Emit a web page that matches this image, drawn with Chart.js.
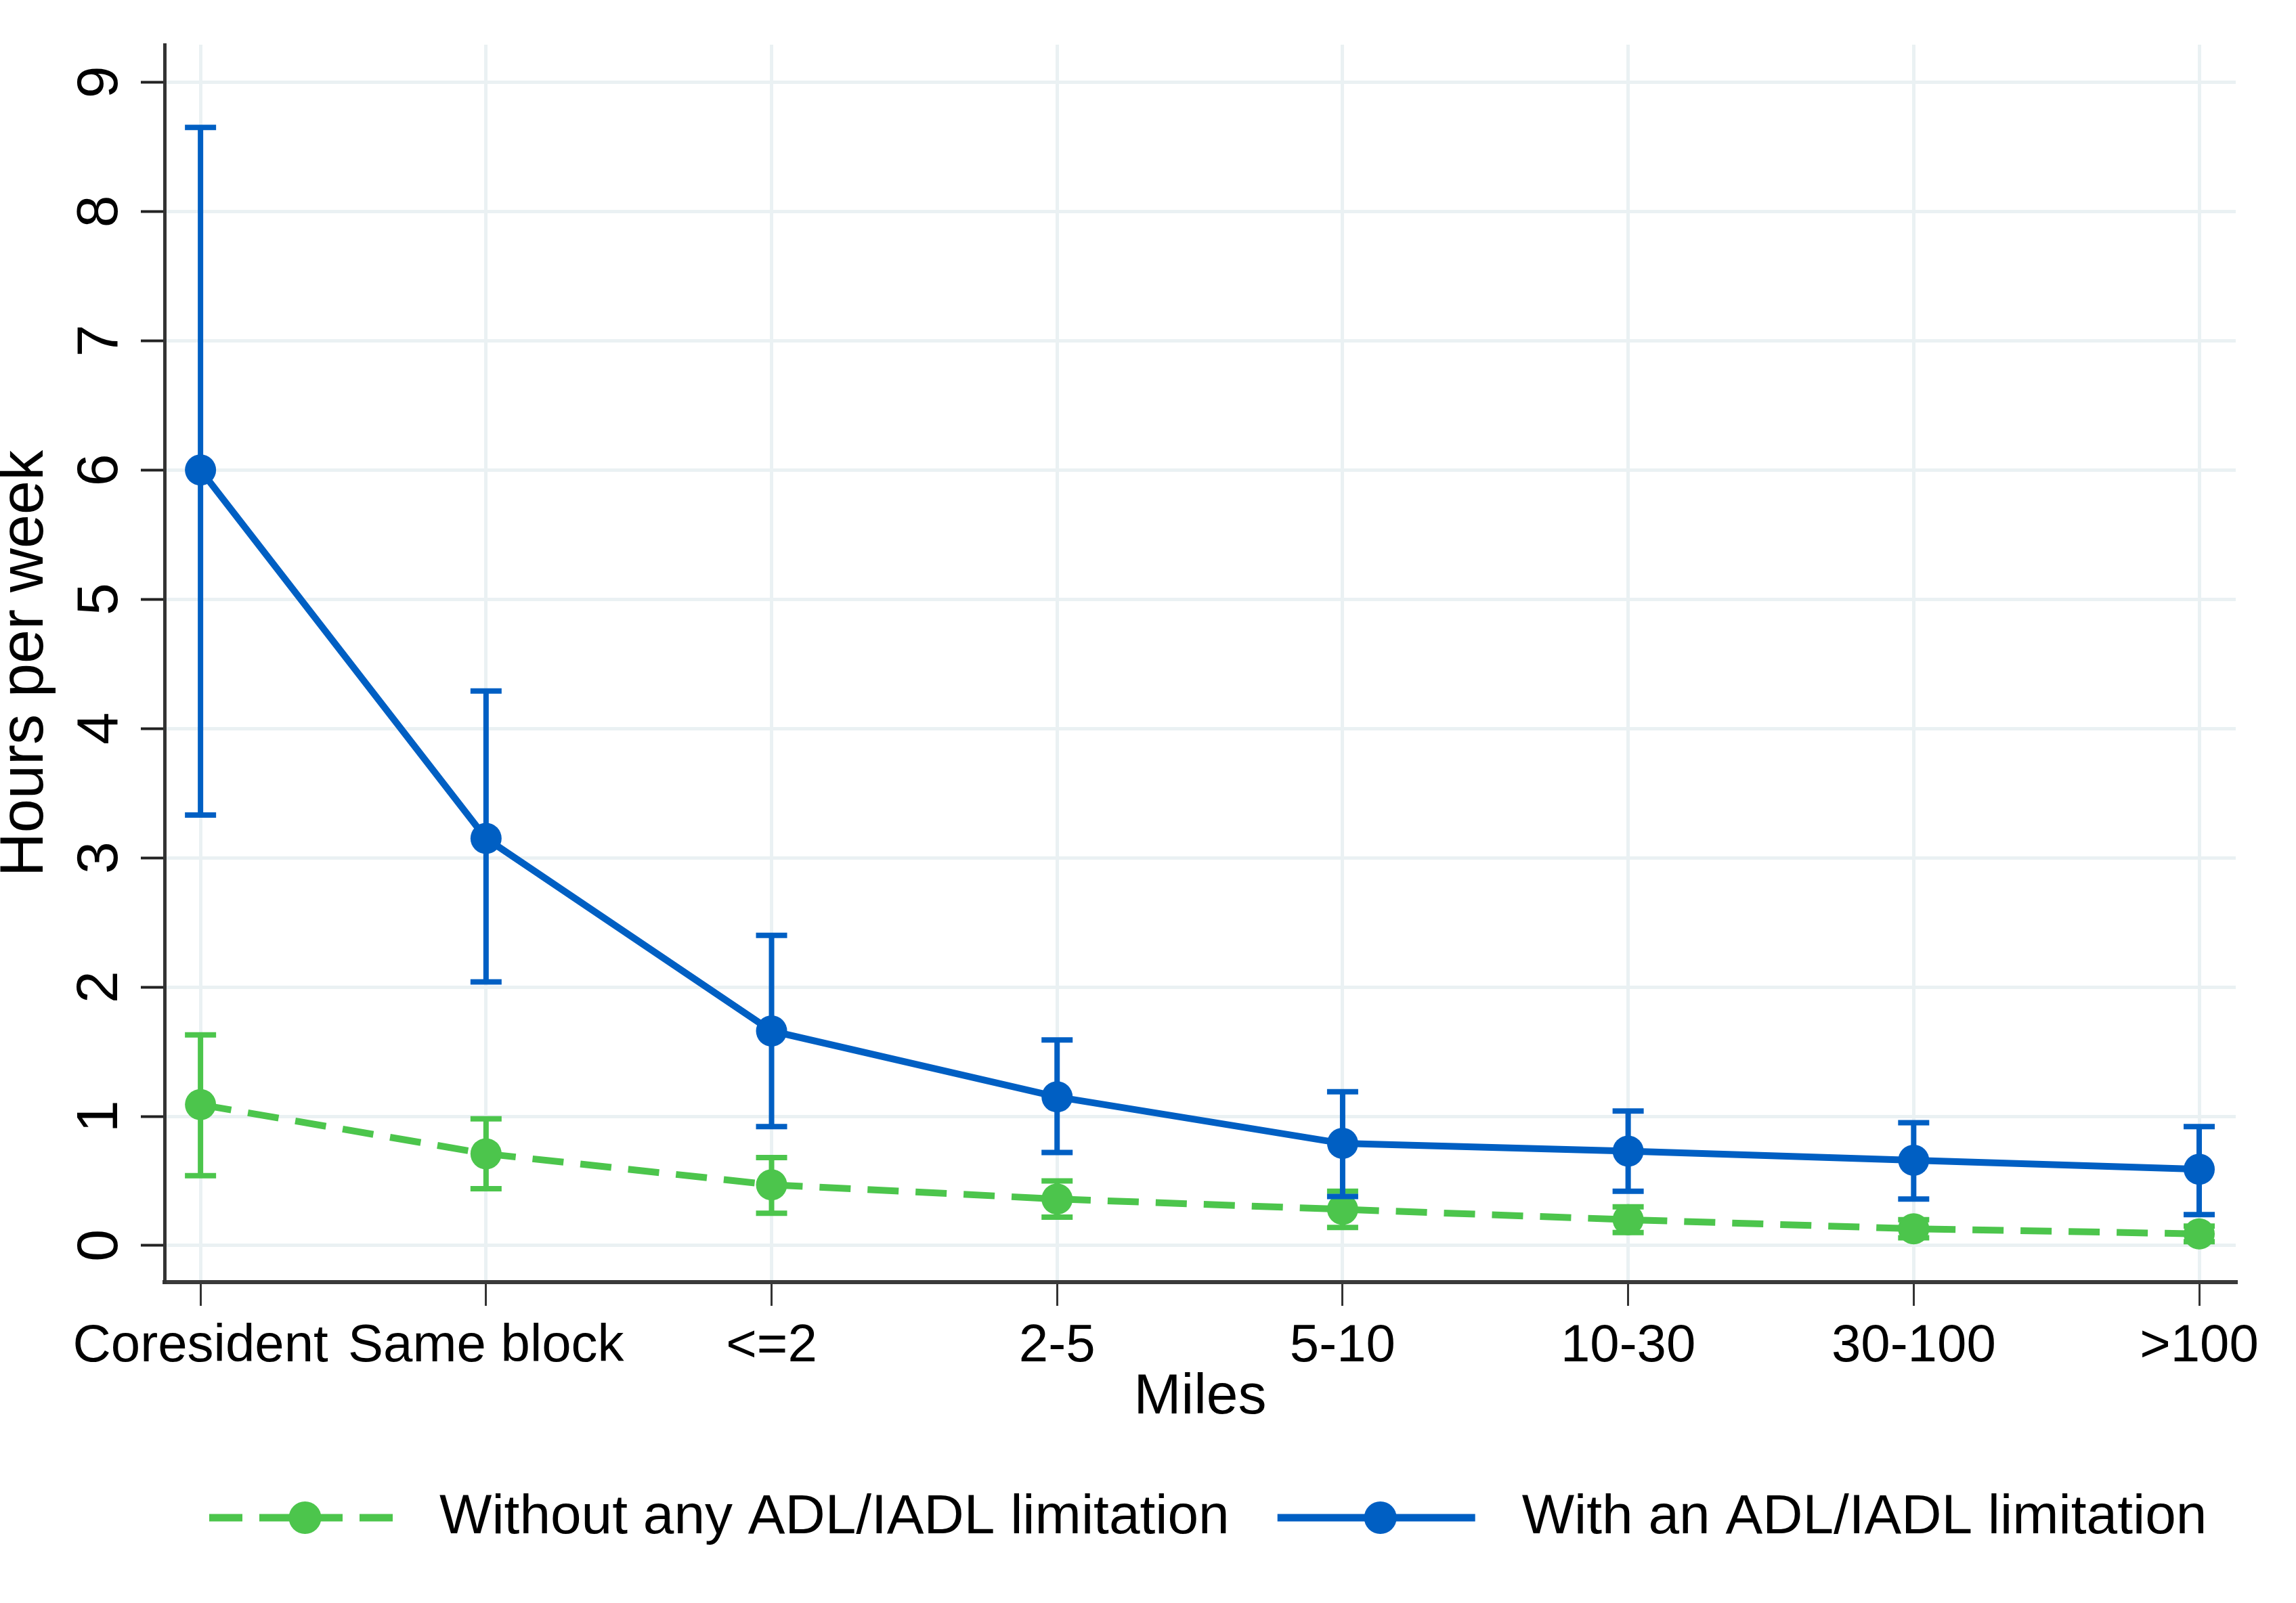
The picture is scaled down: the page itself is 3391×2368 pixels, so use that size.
<!DOCTYPE html>
<html>
<head>
<meta charset="utf-8">
<title>Hours per week by distance</title>
<script src="https://cdn.jsdelivr.net/npm/chart.js@4.4.1/dist/chart.umd.min.js"></script>
<style>
  html, body { margin: 0; padding: 0; background: #fff; }
  #wrap { width: 3391px; height: 2368px; }
</style>
</head>
<body>
<div id="wrap"><canvas id="chart"></canvas></div>
<script>
// categories on the x axis (miles)
const categories = ['Coresident', 'Same block', '<=2', '2-5', '5-10', '10-30', '30-100', '>100'];
const yTicks = [0, 1, 2, 3, 4, 5, 6, 7, 8, 9];
const seriesNames = ['Without any ADL/IADL limitation', 'With an ADL/IADL limitation'];

// without limitation (green, dashed)
const withoutVals = [1.09, 0.71, 0.47, 0.36, 0.28, 0.20, 0.13, 0.09];
const withoutLo   = [0.54, 0.44, 0.25, 0.22, 0.14, 0.10, 0.06, 0.03];
const withoutHi   = [1.63, 0.98, 0.68, 0.50, 0.42, 0.30, 0.20, 0.15];

// with limitation (blue, solid)
const withVals = [6.00, 3.15, 1.66, 1.15, 0.79, 0.73, 0.66, 0.59];
const withLo   = [3.33, 2.04, 0.92, 0.72, 0.38, 0.42, 0.36, 0.24];
const withHi   = [8.65, 4.29, 2.40, 1.59, 1.19, 1.04, 0.95, 0.92];

const GREEN = '#4cc54c';
const BLUE = '#005fc3';
const FONT = '"Liberation Sans", Arial, sans-serif';
const GRID = '#eaf1f3';

Chart.defaults.font.family = FONT;
Chart.defaults.color = '#000';

const toPoints = vals => vals.map((v, i) => ({ x: i, y: v }));

// error bars, drawn just before each dataset so markers sit on top
const errorBars = {
  id: 'errorBars',
  beforeDatasetDraw(chart, args) {
    const ds = chart.data.datasets[args.index];
    if (!ds.errLo) return;
    const ctx = chart.ctx;
    const yScale = chart.scales.y;
    ctx.save();
    ctx.strokeStyle = ds.borderColor;
    ctx.lineWidth = 8;
    args.meta.data.forEach((pt, i) => {
      const x = pt.x;
      const lo = yScale.getPixelForValue(ds.errLo[i]);
      const hi = yScale.getPixelForValue(ds.errHi[i]);
      ctx.beginPath();
      ctx.moveTo(x, lo); ctx.lineTo(x, hi);
      ctx.moveTo(x - 23, lo); ctx.lineTo(x + 23, lo);
      ctx.moveTo(x - 23, hi); ctx.lineTo(x + 23, hi);
      ctx.stroke();
    });
    ctx.restore();
  }
};

// rotated y tick labels (Stata style)
const yLabels = {
  id: 'yLabels',
  afterDraw(chart) {
    const ctx = chart.ctx;
    const ys = chart.scales.y;
    ctx.save();
    ctx.font = '86px ' + FONT;
    ctx.fillStyle = '#000';
    ctx.textAlign = 'center';
    ctx.textBaseline = 'alphabetic';
    ys.ticks.forEach(t => {
      ctx.save();
      ctx.translate(173, ys.getPixelForValue(t.value));
      ctx.rotate(-Math.PI / 2);
      ctx.fillText(String(t.value), 0, 0);
      ctx.restore();
    });
    ctx.restore();
  }
};

// legend with line + marker samples
const sampleLegend = {
  id: 'sampleLegend',
  afterDraw(chart) {
    const ctx = chart.ctx;
    const y = 2242;
    const sampleW = [271, 292];
    let x = 309;
    ctx.save();
    ctx.font = '82px ' + FONT;
    ctx.textBaseline = 'middle';
    ctx.textAlign = 'left';
    chart.data.datasets.forEach((ds, i) => {
      const w = sampleW[i];
      ctx.strokeStyle = ds.borderColor;
      ctx.lineWidth = 11;
      ctx.setLineDash(ds.borderDash.length ? [49, 25] : []);
      ctx.beginPath();
      ctx.moveTo(x, y); ctx.lineTo(x + w, y);
      ctx.stroke();
      ctx.setLineDash([]);
      ctx.fillStyle = ds.borderColor;
      ctx.beginPath();
      ctx.arc(x + w / 2 + 6, y, 24, 0, Math.PI * 2);
      ctx.fill();
      x += w + 69;
      ctx.fillStyle = '#000';
      ctx.fillText(ds.label, x, y);
      x += ctx.measureText(ds.label).width + 71;
    });
    ctx.restore();
  }
};

new Chart(document.getElementById('chart'), {
  type: 'line',
  data: {
    datasets: [
      {
        label: seriesNames[0],
        data: toPoints(withoutVals),
        errLo: withoutLo,
        errHi: withoutHi,
        borderColor: GREEN,
        backgroundColor: GREEN,
        borderWidth: 10,
        borderDash: [46, 25],
        pointRadius: 23,
        pointBorderWidth: 0,
        pointBackgroundColor: GREEN,
        tension: 0,
        order: 1
      },
      {
        label: seriesNames[1],
        data: toPoints(withVals),
        errLo: withLo,
        errHi: withHi,
        borderColor: BLUE,
        backgroundColor: BLUE,
        borderWidth: 10,
        borderDash: [],
        pointRadius: 23,
        pointBorderWidth: 0,
        pointBackgroundColor: BLUE,
        tension: 0,
        order: 0
      }
    ]
  },
  options: {
    responsive: true,
    maintainAspectRatio: false,
    animation: false,
    devicePixelRatio: 1,
    layout: { padding: { top: 66, right: 89, bottom: 261, left: 0 } },
    plugins: {
      legend: { display: false },
      tooltip: { enabled: false }
    },
    scales: {
      x: {
        type: 'linear',
        min: -0.126,
        max: 7.128,
        afterBuildTicks: s => { s.ticks = categories.map((c, i) => ({ value: i })); },
        afterFit: s => { s.height = 213; },
        grid: { color: GRID, lineWidth: 5, tickLength: 35, tickColor: '#333', tickWidth: 3 },
        border: { display: true, color: '#3a3a3a', width: 6 },
        ticks: {
          autoSkip: false,
          maxRotation: 0,
          minRotation: 0,
          padding: 14,
          font: { size: 78 },
          color: '#000',
          callback: v => categories[v]
        },
        title: { display: true, text: 'Miles', font: { size: 84, lineHeight: 1 }, padding: 0, color: '#000' }
      },
      y: {
        type: 'linear',
        min: -0.283,
        max: 9.29,
        afterBuildTicks: s => { s.ticks = yTicks.map(v => ({ value: v })); },
        afterFit: s => { s.width = 243; },
        grid: { color: GRID, lineWidth: 5, tickLength: 35, tickColor: '#222', tickWidth: 4 },
        border: { display: true, color: '#333', width: 5 },
        ticks: { display: false },
        title: { display: true, text: 'Hours per week', font: { size: 90, lineHeight: 0.85 }, padding: 0, color: '#000' }
      }
    }
  },
  plugins: [errorBars, yLabels, sampleLegend]
});
</script>
</body>
</html>
